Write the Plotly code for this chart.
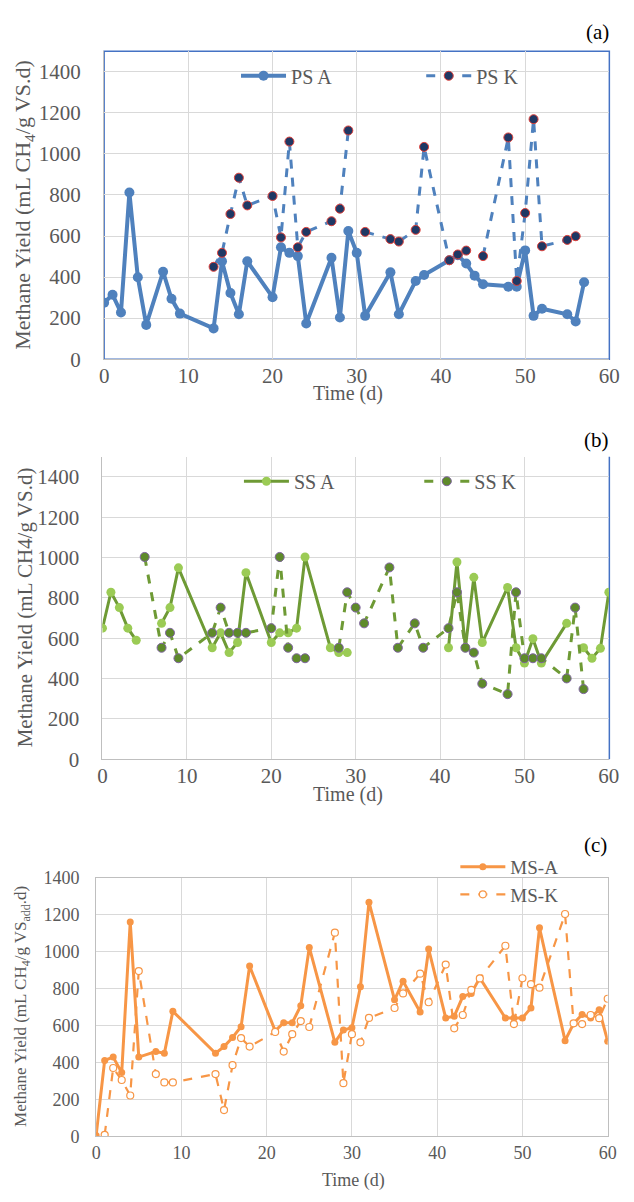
import plotly.graph_objects as go

# ---------------- data ----------------
# None marks a day logged for the sibling series but blank for this one (line break)
# (a) primary sludge
ps_a_day = [0, 1, 2, 3, 4, 5, 7, 8, 9, 13, 14, 15, 16, 17, 20, 21, 22, 23, 24, 27, 28, 29, 30,
            31, 34, 35, 37, 38, 41, 42, 43, 44, 45, 48, 49, 50, 51, 52, 55, 56, 57]
ps_a_val = [275, 314, 227, 812, 399, 167, 426, 294, 222, 150, 477, 322, 219, 477, 302, 545, 518, 502, 174, 494, 203, 624, 518,
            211, 423, 219, 381, 410, 482, 506, 466, 407, 365, 353, 353, 530, 211, 246, 219, 184, 375]
ps_k_day = [13, 14, 15, 16, 17, 20, 21, 22, 23, 24, 27, 28, 29, 30,
            31, 34, 35, 37, 38, 41, 42, 43, 44, 45, 48, 49, 50, 51, 52, 55, 56]
ps_k_val = [450, 518, 707, 884, 749, 795, 593, 1060, 545, 620, 672, 733, 1114, None,
            620, 585, 573, 630, 1034, 482, 510, 529, None, 502, 1080, 381, 712, 1169, 550, 581, 599]

# (b) secondary sludge
ss_a_day = [0, 1, 2, 3, 4, 5, 7, 8, 9, 13, 14, 15, 16, 17, 20, 21, 22, 23, 24, 27, 28, 29, 30,
            41, 42, 43, 44, 45, 48, 49, 50, 51, 52, 55, 56, 57, 58, 59, 60]
ss_a_val = [650, 828, 752, 650, 590, None, 674, 752, 949, 553, 627, 529, 579, 925, 579, 627, 627, 650, 1003, 553, 529, 529, None,
            553, 978, 553, 902, 579, 852, 553, 477, 598, 477, 674, None, 553, 501, 550, 828]
ss_k_day = [5, 7, 8, 9, 13, 14, 15, 16, 17, 20, 21, 22, 23, 24, 27, 28, 29, 30, 31, 34, 35, 37, 38,
            41, 42, 43, 44, 45, 48, 49, 50, 51, 52, 55, 56, 57]
ss_k_val = [1003, 553, 627, 501, 627, 752, 627, 627, 627, 650, 1003, 553, 501, 501, None, 553, 828, 752, 674, 951, 553, 674, 553,
            650, 828, 553, 529, 375, 323, 828, 501, 501, 501, 401, 752, 348]

# (c) mixed sludge
ms_a_day = [0, 1, 2, 3, 4, 5, 7, 8, 9, 14, 15, 16, 17, 18, 21, 22, 23, 24, 25, 28, 29, 30, 31, 32,
            35, 36, 38, 39, 41, 42, 43, 44, 45, 48, 49, 50, 51, 52, 55, 56, 57, 58, 59, 60]
ms_a_val = [5, 411, 429, 345, 1161, 429, 459, 450, 677, 450, 486, 535, 594, 922, 571, 615, 615, 707, 1023, 509, 576, 588, 810, 1268,
            739, 840, 673, 1014, 641, 650, 757, 774, 858, 641, 641, 641, 695, 1129, 518, 610, 660, 641, 686, 515]
ms_k_day = [1, 2, 3, 4, 5, 7, 8, 9, 14, 15, 16, 17, 18, 21, 22, 23, 24, 25, 28, 29, 30, 31, 32,
            35, 36, 38, 39, 41, 42, 43, 44, 45, 48, 49, 50, 51, 52, 55, 56, 57, 58, 59, 60]
ms_k_val = [8, 370, 305, 221, 895, 337, 292, 292, 337, 142, 385, 532, 486, 565, 459, 553, 624, 592, 1103, 288, 553, 509, 641,
            695, 774, 881, 726, 930, 585, 657, 793, 855, 1032, 608, 856, 824, 805, 1204, 612, 608, 657, 640, 745]

x_ticks = [0, 10, 20, 30, 40, 50, 60]
y_ticks = [0, 200, 400, 600, 800, 1000, 1200, 1400]

# ---------------- styling ----------------
W, H = 634, 1202
SERIF = "Liberation Serif, Times New Roman, serif"
GRID = "#D9D9D9"
AXIS = "#BFBFBF"
TXT = "#595959"
BLUE = "#4F81BD"
NAVY = "#1F3864"
OLIVE = "#6E9A35"
LIME = "#9BCB55"
DKOLIVE = "#5E8A2A"
ORANGE = "#F79646"


def px_x(p):
    return p / W


def px_y(p):
    return 1 - p / H


fig = go.Figure()

# panel (a)
fig.add_trace(go.Scatter(x=ps_a_day, y=ps_a_val, name="PS A", mode="lines+markers",
                         line=dict(color=BLUE, width=4),
                         marker=dict(size=10, color=BLUE),
                         xaxis="x", yaxis="y", legend="legend"))
fig.add_trace(go.Scatter(x=ps_k_day, y=ps_k_val, name="PS K", mode="lines+markers",
                         line=dict(color=BLUE, width=3, dash="dash"),
                         marker=dict(size=9, color=NAVY, line=dict(color="#E0403A", width=1)),
                         xaxis="x", yaxis="y", legend="legend2"))
# panel (b)
fig.add_trace(go.Scatter(x=ss_a_day, y=ss_a_val, name="SS A", mode="lines+markers",
                         line=dict(color=OLIVE, width=3),
                         marker=dict(size=9, color=LIME),
                         xaxis="x2", yaxis="y2", legend="legend3"))
fig.add_trace(go.Scatter(x=ss_k_day, y=ss_k_val, name="SS K", mode="lines+markers",
                         line=dict(color=OLIVE, width=3, dash="dash"),
                         marker=dict(size=9, color=DKOLIVE, line=dict(color="#8064A2", width=1)),
                         xaxis="x2", yaxis="y2", legend="legend4"))
# panel (c)
fig.add_trace(go.Scatter(x=ms_a_day, y=ms_a_val, name="MS-A", mode="lines+markers",
                         line=dict(color=ORANGE, width=3),
                         marker=dict(size=7, color=ORANGE),
                         xaxis="x3", yaxis="y3", legend="legend5"))
fig.add_trace(go.Scatter(x=ms_k_day, y=ms_k_val, name="MS-K", mode="lines+markers",
                         line=dict(color=ORANGE, width=2.2, dash="dash"),
                         marker=dict(size=7, color="white", line=dict(color=ORANGE, width=1.2)),
                         xaxis="x3", yaxis="y3", legend="legend6"))

panels = {
    "a": dict(left=101.7, right=620.0, top=42.0, bottom=355.7, ymax=1500, fs=21, xs=-3, ys=18),
    "b": dict(left=100.0, right=619.5, top=455.0, bottom=763.3, ymax=1500, fs=21, xs=-3, ys=18),
    "c": dict(left=93.5, right=618.3, top=884.0, bottom=1147.3, ymax=1400, fs=18, xs=0, ys=12),
}

axes = {}
for i, (key, p) in enumerate(panels.items(), start=1):
    sfx = "" if i == 1 else str(i)
    axes["xaxis" + sfx] = dict(
        domain=[px_x(p["left"]), px_x(p["right"])], anchor="y" + sfx,
        range=[0, 60], tickvals=x_ticks, showgrid=True, gridcolor=GRID, gridwidth=1,
        zeroline=False, showline=True, linecolor=AXIS, linewidth=1.3,
        mirror=(key == "c"), ticks="", ticklabelstandoff=p["xs"],
        tickfont=dict(family=SERIF, size=p["fs"], color=TXT))
    axes["yaxis" + sfx] = dict(
        domain=[px_y(p["bottom"]), px_y(p["top"])], anchor="x" + sfx,
        range=[0, p["ymax"]], tickvals=y_ticks, showgrid=True, gridcolor=GRID,
        gridwidth=1, zeroline=False, showline=True, linecolor=AXIS, linewidth=1.3,
        mirror=(key == "c"), ticks="", ticklabelstandoff=p["ys"],
        tickfont=dict(family=SERIF, size=p["fs"], color=TXT))

legends = {}
legend_pos = [("legend", 237, 67, 20), ("legend2", 427, 67, 20), ("legend3", 240, 480, 20),
              ("legend4", 425, 480, 20), ("legend5", 462, 873, 19), ("legend6", 462, 901, 19)]
for name, lx, ly, fs in legend_pos:
    legends[name] = dict(x=px_x(lx), y=px_y(ly), xanchor="left", yanchor="middle",
                         bgcolor="rgba(0,0,0,0)", borderwidth=0,
                         font=dict(family=SERIF, size=fs, color=TXT), itemwidth=45)

annotations = [
    dict(text="(a)", x=px_x(622), y=px_y(22), xanchor="right", yanchor="middle"),
    dict(text="(b)", x=px_x(622), y=px_y(438), xanchor="right", yanchor="middle"),
    dict(text="(c)", x=px_x(620), y=px_y(851), xanchor="right", yanchor="middle"),
]
for a in annotations:
    a.update(xref="paper", yref="paper", showarrow=False,
             font=dict(family=SERIF, size=21, color="black"))

titles = [
    ("Methane Yield (mL CH<sub>4</sub>/g VS.d)", 20, 198, 22, -90),
    ("Methane Yield (mL CH4/g VS.d)", 20, 608, 21, -90),
    ("Methane Yield (mL CH<sub>4</sub>/g VS<sub>add</sub>.d)", 18, 1015, 17, -90),
    ("Time (d)", 352, 391, 20, 0),
    ("Time (d)", 352, 799, 20, 0),
    ("Time (d)", 358, 1192, 18, 0),
]
for text, tx, ty, size, ang in titles:
    annotations.append(dict(text=text, x=px_x(tx), y=px_y(ty), xref="paper", yref="paper",
                            xanchor="center", yanchor="middle", showarrow=False, textangle=ang,
                            font=dict(family=SERIF, size=size, color=TXT)))

shapes = [
    # blue frame of panel (a)
    dict(type="rect", xref="paper", yref="paper", layer="below",
         x0=px_x(101.7), x1=px_x(620.0), y0=px_y(355.7), y1=px_y(42.0),
         line=dict(color="#4472C4", width=1.5)),
    # blue right edge of panel (b)
    dict(type="line", xref="paper", yref="paper", layer="below",
         x0=px_x(620.0), x1=px_x(620.0), y0=px_y(763.3), y1=px_y(455.0),
         line=dict(color="#4472C4", width=1.5)),
]

fig.update_layout(width=W, height=H, margin=dict(l=0, r=0, t=0, b=0),
                  paper_bgcolor="white", plot_bgcolor="white", showlegend=True,
                  annotations=annotations, shapes=shapes, **axes, **legends)

fig.write_html("out.html")
